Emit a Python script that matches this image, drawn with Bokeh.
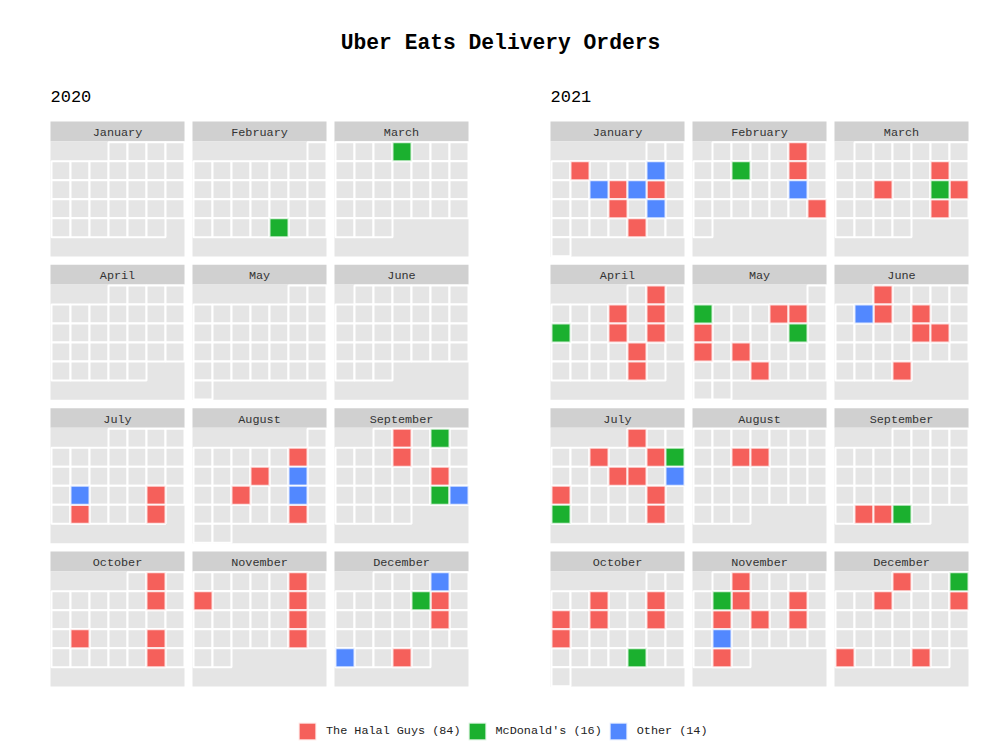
import datetime as dt

from bokeh.plotting import figure
from bokeh.models import ColumnDataSource, Range1d, Legend, LegendItem
from bokeh.core.properties import value
from bokeh.embed import file_html
from bokeh.resources import INLINE

# ---------------- data ----------------
TITLE = "Uber Eats Delivery Orders"
YEARS = [2020, 2021]
MONTHS = ["January", "February", "March", "April", "May", "June",
          "July", "August", "September", "October", "November", "December"]
CATEGORIES = ["The Halal Guys", "McDonald's", "Other"]
COLORS = ["#f5605b", "#1bb02f", "#5288ff"]

halal_dates = [
    "2020-07-24", "2020-07-27", "2020-07-31",
    "2020-08-07", "2020-08-12", "2020-08-18", "2020-08-28",
    "2020-09-02", "2020-09-09", "2020-09-18",
    "2020-10-02", "2020-10-09", "2020-10-19", "2020-10-23", "2020-10-30",
    "2020-11-06", "2020-11-08", "2020-11-13", "2020-11-20", "2020-11-27",
    "2020-12-11", "2020-12-18", "2020-12-30",
    "2021-01-04", "2021-01-13", "2021-01-15", "2021-01-20", "2021-01-28",
    "2021-02-05", "2021-02-12", "2021-02-27",
    "2021-03-12", "2021-03-16", "2021-03-20", "2021-03-26",
    "2021-04-02", "2021-04-07", "2021-04-09", "2021-04-14", "2021-04-16",
    "2021-04-22", "2021-04-29",
    "2021-05-06", "2021-05-07", "2021-05-09", "2021-05-16", "2021-05-18",
    "2021-05-26",
    "2021-06-01", "2021-06-08", "2021-06-10", "2021-06-17", "2021-06-18",
    "2021-06-30",
    "2021-07-01", "2021-07-06", "2021-07-09", "2021-07-14", "2021-07-15",
    "2021-07-18", "2021-07-23", "2021-07-30",
    "2021-08-10", "2021-08-11",
    "2021-09-27", "2021-09-28",
    "2021-10-05", "2021-10-08", "2021-10-10", "2021-10-12", "2021-10-15",
    "2021-10-17",
    "2021-11-02", "2021-11-09", "2021-11-12", "2021-11-15", "2021-11-17",
    "2021-11-19", "2021-11-29",
    "2021-12-01", "2021-12-07", "2021-12-11", "2021-12-26", "2021-12-30",
]
mcdonalds_dates = [
    "2020-02-27", "2020-03-04", "2020-09-04", "2020-09-25", "2020-12-10",
    "2021-02-09", "2021-03-19", "2021-04-11", "2021-05-02", "2021-05-14",
    "2021-07-10", "2021-07-25", "2021-09-29", "2021-10-28", "2021-11-08",
    "2021-12-04",
]
other_dates = [
    "2020-07-20", "2020-08-14", "2020-08-21", "2020-09-26", "2020-12-04",
    "2020-12-27", "2021-01-08", "2021-01-12", "2021-01-14", "2021-01-22",
    "2021-02-19", "2021-06-07", "2021-07-17", "2021-11-22",
]
CATEGORY_DATES = [halal_dates, mcdonalds_dates, other_dates]

# ---------------- layout ----------------
YEAR_X = [50, 550]
PANEL_Y0 = 121.0
PANEL_STEP_X = 142.0
PANEL_STEP_Y = 143.33
PANEL_W = 134.0
HEADER_H = 19.7
BODY_H = 115.3
CELL = 19.0

FONT = "Liberation Mono"


def panel_origin(year, month):
    yi = YEARS.index(year)
    pr, pc = divmod(month - 1, 3)
    return YEAR_X[yi] + pc * PANEL_STEP_X, PANEL_Y0 + pr * PANEL_STEP_Y


def cell_center(d):
    px, py = panel_origin(d.year, d.month)
    first = dt.date(d.year, d.month, 1)
    offset = (first.weekday() + 1) % 7  # Sunday first
    row, col = divmod(offset + d.day - 1, 7)
    x = px + 1 + CELL * (col + 0.5)
    y = py + HEADER_H + 1 + CELL * (row + 0.5)
    return x, y


p = figure(width=1000, height=750, x_range=Range1d(0, 1000), y_range=Range1d(750, 0),
           output_backend="svg", toolbar_location=None, min_border=0,
           x_axis_type=None, y_axis_type=None)
p.grid.visible = False
p.outline_line_color = None
p.background_fill_color = "white"
p.border_fill_color = "white"

# panels
hx, hy, bx, by, lt = [], [], [], [], []
for year in YEARS:
    for m in range(1, 13):
        px, py = panel_origin(year, m)
        hx.append(px + PANEL_W / 2)
        hy.append(py + HEADER_H / 2)
        bx.append(px + PANEL_W / 2)
        by.append(py + HEADER_H + BODY_H / 2)
        lt.append(MONTHS[m - 1])
p.rect(x=hx, y=hy, width=PANEL_W, height=HEADER_H, fill_color="#d0d0d0", line_color=None)
p.rect(x=bx, y=by, width=PANEL_W, height=BODY_H, fill_color="#e5e5e5", line_color=None)
p.text(x=hx, y=[v + 1.5 for v in hy], text=lt, text_font=value(FONT), text_font_size="11.8px",
       text_align="center", text_baseline="middle", text_color="#333333")

# all day cells
cx, cy = [], []
for year in YEARS:
    d = dt.date(year, 1, 1)
    while d.year == year:
        x, y = cell_center(d)
        cx.append(x)
        cy.append(y)
        d += dt.timedelta(days=1)
p.rect(x=cx, y=cy, width=CELL, height=CELL, fill_color="#e5e5e5",
       line_color="white", line_width=2)

# coloured order cells
items = []
for name, color, dates in zip(CATEGORIES, COLORS, CATEGORY_DATES):
    xs, ys = [], []
    for s in dates:
        x, y = cell_center(dt.date.fromisoformat(s))
        xs.append(x)
        ys.append(y)
    src = ColumnDataSource(dict(x=xs, y=ys))
    r = p.rect(x="x", y="y", width=CELL, height=CELL, source=src, fill_color=color,
               line_color="white", line_width=2, line_alpha=0.8)
    items.append(LegendItem(label=f"{name} ({len(dates)})", renderers=[r]))

# title and years
p.text(x=[500], y=[42], text=[TITLE], text_font=value(FONT), text_font_size="21.3px",
       text_font_style="bold", text_align="center", text_baseline="middle", text_color="black")
p.text(x=[YEAR_X[0], YEAR_X[1]], y=[96, 96], text=[str(y) for y in YEARS],
       text_font=value(FONT), text_font_size="17px", text_align="left",
       text_baseline="middle", text_color="black")

legend = Legend(items=items, orientation="horizontal", location=(296, 8),
                glyph_width=22, glyph_height=22, label_height=22, label_standoff=8,
                spacing=5, padding=0, margin=0, border_line_alpha=0,
                background_fill_alpha=0, label_text_font=FONT,
                label_text_font_size="11.8px", label_text_color="#222222")
p.add_layout(legend)

open("out.html", "w").write(file_html(p, INLINE))
